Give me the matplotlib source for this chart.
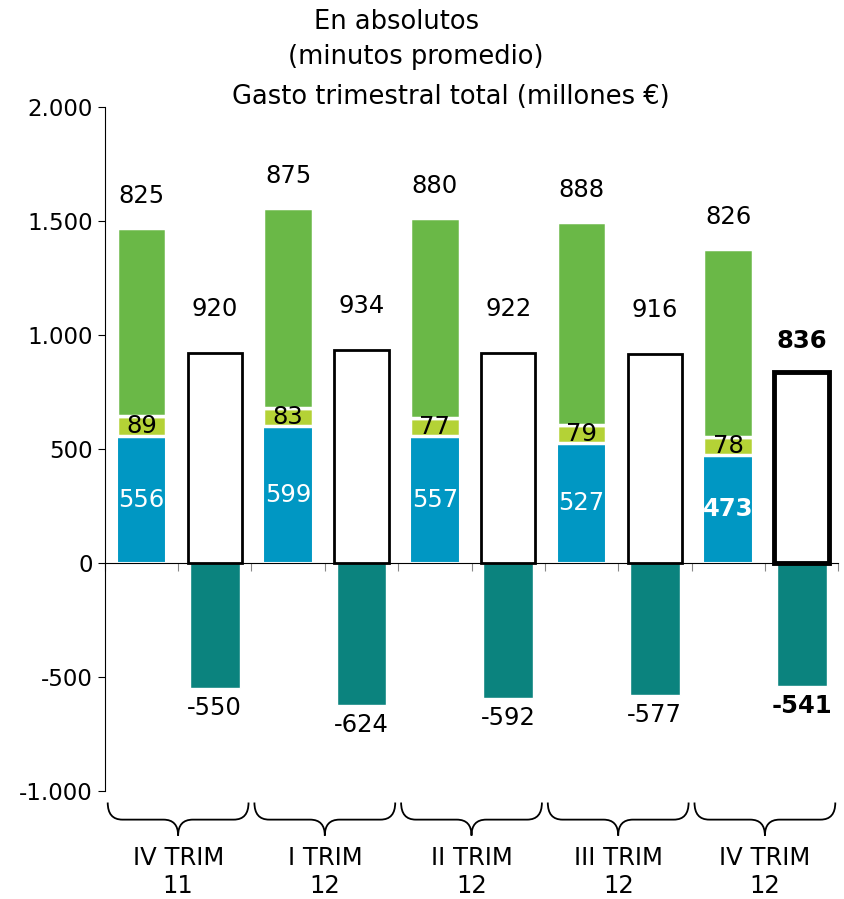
import numpy as np
import matplotlib.pyplot as plt
from matplotlib.path import Path
from matplotlib.patches import PathPatch
from matplotlib.ticker import FuncFormatter

periodos = ["IV TRIM\n11", "I TRIM\n12", "II TRIM\n12", "III TRIM\n12", "IV TRIM\n12"]
azul = [556, 599, 557, 527, 473]
lima = [89, 83, 77, 79, 78]
verde = [825, 875, 880, 888, 826]
total = [920, 934, 922, 916, 836]
negativo = [-550, -624, -592, -577, -541]

c_azul = "#0097c3"
c_lima = "#b4d236"
c_verde = "#6ab847"
c_teal = "#0b837e"

fig = plt.figure(figsize=(8.45, 8.99), dpi=100)
ax = fig.add_axes([0.124, 0.12, 0.868, 0.761])

n = len(periodos)
x_stack = np.arange(n) * 2
x_tot = x_stack + 1
w = 0.68
fs = 17.5

ax.bar(x_stack, azul, w, color=c_azul, edgecolor="white", linewidth=1.5)
ax.bar(x_stack, lima, w, bottom=azul, color=c_lima, edgecolor="white", linewidth=2.5)
bot2 = np.array(azul) + np.array(lima)
ax.bar(x_stack, verde, w, bottom=bot2, color=c_verde, edgecolor="white", linewidth=2.5)
ax.bar(x_tot, negativo, w, color=c_teal, edgecolor="white", linewidth=1)
for i in range(n):
    last = i == n - 1
    ax.bar(x_tot[i], total[i], 0.74, color="white", edgecolor="black",
           linewidth=3.5 if last else 2, zorder=3)

for i in range(n):
    wt = "bold" if i == n - 1 else "normal"
    ax.annotate(str(azul[i]), (x_stack[i], azul[i] / 2), ha="center", va="center",
                color="white", fontsize=fs, fontweight=wt)
    ax.annotate(str(lima[i]), (x_stack[i], azul[i] + lima[i] / 2), ha="center", va="center",
                color="black", fontsize=fs)
    ax.annotate(str(verde[i]), (x_stack[i], bot2[i] + verde[i]), xytext=(0, 32),
                textcoords="offset pixels", ha="center", va="center", fontsize=fs)
    ax.annotate(str(total[i]), (x_tot[i], total[i]), xytext=(0, 44 if i < n - 1 else 31),
                textcoords="offset pixels", ha="center", va="center", fontsize=fs, fontweight=wt)
    ax.annotate(str(negativo[i]), (x_tot[i], negativo[i]), xytext=(0, -20),
                textcoords="offset pixels", ha="center", va="center", fontsize=fs, fontweight=wt)

ax.set_xlim(-0.5, 2 * n - 0.5)
ax.set_ylim(-1000, 2000)
ax.set_yticks(np.arange(-1000, 2001, 500))
ax.yaxis.set_major_formatter(FuncFormatter(lambda v, p: f"{int(v):,}".replace(",", ".")))
ax.tick_params(axis="y", labelsize=16.5, length=5, direction="out")
ax.spines["top"].set_visible(False)
ax.spines["right"].set_visible(False)
ax.spines["bottom"].set_position(("data", 0))
ax.set_xticks(np.arange(2 * n + 1) - 0.5)
ax.set_xticklabels([])
ax.tick_params(axis="x", length=6, color="#888888")

# llaves bajo el eje
ytop, ymid, ytip = -1050, -1125, -1195
for i in range(n):
    x0 = x_stack[i] - 0.46
    x1 = x_stack[i] + 1.46
    xm = (x0 + x1) / 2
    r = 0.2
    verts = [(x0, ytop), (x0, ymid), (x0 + r, ymid),
             (xm - r, ymid),
             (xm, ymid), (xm, ytip),
             (xm, ymid), (xm + r, ymid),
             (x1 - r, ymid),
             (x1, ymid), (x1, ytop)]
    codes = [Path.MOVETO, Path.CURVE3, Path.CURVE3,
             Path.LINETO,
             Path.CURVE3, Path.CURVE3,
             Path.CURVE3, Path.CURVE3,
             Path.LINETO,
             Path.CURVE3, Path.CURVE3]
    ax.add_patch(PathPatch(Path(verts, codes), fill=False, lw=1.3, color="black", clip_on=False))
    ax.text(xm, -1355, periodos[i], ha="center", va="center", fontsize=fs, linespacing=1.2)

fig.text(0.469, 0.975, "En absolutos", ha="center", va="center", fontsize=18.5)
fig.text(0.492, 0.937, "(minutos promedio)", ha="center", va="center", fontsize=18.5)
fig.text(0.533, 0.892, "Gasto trimestral total (millones €)", ha="center", va="center", fontsize=18.5)

fig.savefig("out.png", dpi=100)
